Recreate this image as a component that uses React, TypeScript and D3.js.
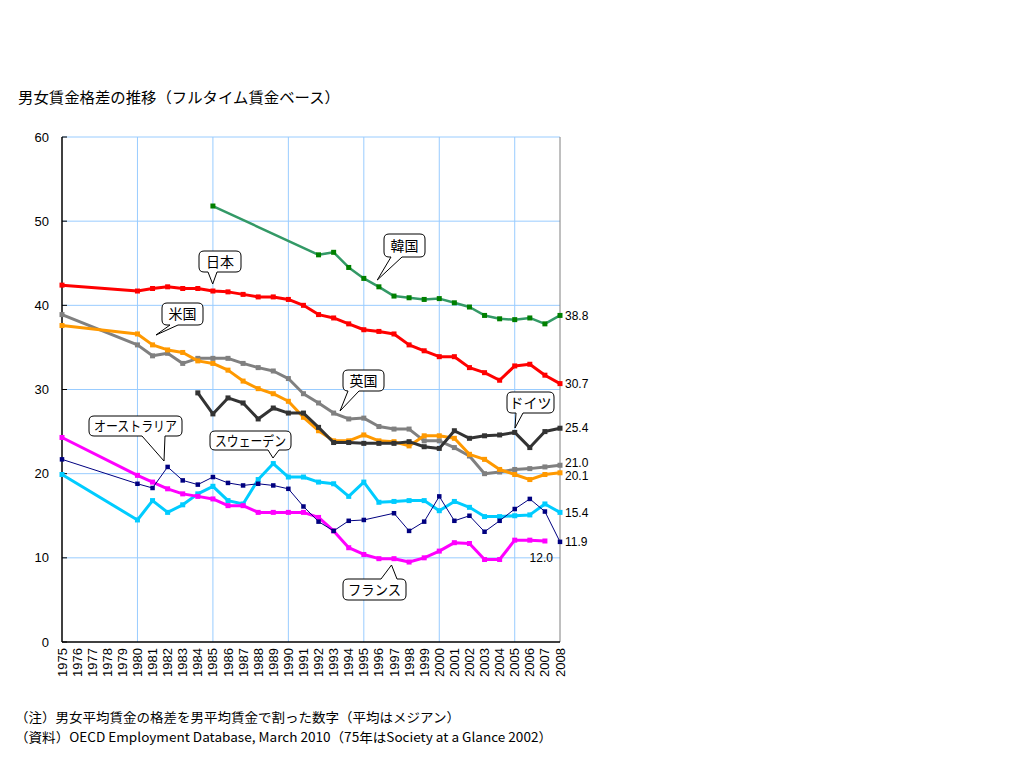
import React from "react";
import * as d3 from "d3";

const years: number[] = d3.range(1975, 2009);
const yTicks = [0, 10, 20, 30, 40, 50, 60];
const gridYears = [1980, 1985, 1990, 1995, 2000, 2005];

const japan = [42.4, null, null, null, null, 41.7, 42.0, 42.2, 42.0, 42.0, 41.7, 41.6, 41.3, 41.0, 41.0, 40.7, 40.0, 38.9, 38.5, 37.8, 37.1, 36.9, 36.6, 35.3, 34.6, 33.9, 33.9, 32.6, 32.0, 31.1, 32.8, 33.0, 31.7, 30.7];
const korea = [null, null, null, null, null, null, null, null, null, null, 51.8, null, null, null, null, null, null, 46.0, 46.3, 44.5, 43.2, 42.2, 41.1, 40.9, 40.7, 40.8, 40.3, 39.8, 38.8, 38.4, 38.3, 38.5, 37.8, 38.8];
const usa = [37.6, null, null, null, null, 36.6, 35.3, 34.7, 34.4, 33.4, 33.1, 32.3, 31.0, 30.1, 29.5, 28.6, 26.7, 25.1, 23.9, 23.9, 24.6, 23.9, 23.8, 23.3, 24.5, 24.5, 24.2, 22.3, 21.7, 20.5, 19.9, 19.3, 19.9, 20.1];
const uk = [38.9, null, null, null, null, 35.3, 34.0, 34.3, 33.1, 33.7, 33.7, 33.7, 33.1, 32.6, 32.2, 31.3, 29.5, 28.4, 27.2, 26.5, 26.6, 25.6, 25.3, 25.3, 23.9, 23.9, 23.1, 22.1, 20.0, 20.2, 20.5, 20.6, 20.8, 21.0];
const germany = [null, null, null, null, null, null, null, null, null, 29.6, 27.1, 29.0, 28.4, 26.5, 27.8, 27.2, 27.2, 25.5, 23.7, 23.7, 23.6, 23.6, 23.6, 23.8, 23.2, 23.0, 25.1, 24.2, 24.5, 24.6, 24.9, 23.1, 25.0, 25.4];
const australia = [21.7, null, null, null, null, 18.8, 18.3, 20.8, 19.2, 18.7, 19.6, 18.9, 18.6, 18.8, 18.6, 18.2, 16.1, 14.3, 13.2, 14.4, 14.5, null, 15.3, 13.2, 14.3, 17.3, 14.4, 15.0, 13.1, 14.4, 15.8, 17.0, 15.5, 11.9];
const sweden = [19.9, null, null, null, null, 14.5, 16.8, 15.4, 16.3, 17.6, 18.5, 16.8, 16.4, 19.3, 21.2, 19.6, 19.6, 19.0, 18.8, 17.3, 19.0, 16.6, 16.7, 16.8, 16.8, 15.6, 16.7, 16.0, 14.9, 14.9, 15.0, 15.1, 16.4, 15.4];
const france = [24.3, null, null, null, null, 19.8, 19.0, 18.2, 17.6, 17.3, 17.0, 16.2, 16.2, 15.4, 15.4, 15.4, 15.4, 14.8, 13.2, 11.2, 10.4, 9.9, 9.9, 9.5, 10.0, 10.8, 11.8, 11.7, 9.8, 9.8, 12.1, 12.1, 12.0, null];

type Series = { name: string; values: (number | null)[]; line: string; marker: string; width: number; ms: number };

const series: Series[] = [
  { name: "日本", values: japan, line: "#FF0000", marker: "#FF0000", width: 3, ms: 5 },
  { name: "韓国", values: korea, line: "#339966", marker: "#008000", width: 2.5, ms: 5 },
  { name: "英国", values: uk, line: "#808080", marker: "#808080", width: 3, ms: 5 },
  { name: "米国", values: usa, line: "#FF9900", marker: "#FF9900", width: 3, ms: 5 },
  { name: "ドイツ", values: germany, line: "#333333", marker: "#333333", width: 3, ms: 5 },
  { name: "スウェーデン", values: sweden, line: "#00CCFF", marker: "#00CCFF", width: 3, ms: 5 },
  { name: "フランス", values: france, line: "#FF00FF", marker: "#FF00FF", width: 3, ms: 5 },
  { name: "オーストラリア", values: australia, line: "#000080", marker: "#000080", width: 1, ms: 4.5 },
];

const endLabels: { name: string; year: number; dx: number; dy: number; anchor: string }[] = [
  { name: "韓国", year: 2008, dx: 5, dy: 0, anchor: "start" },
  { name: "日本", year: 2008, dx: 5, dy: 0, anchor: "start" },
  { name: "ドイツ", year: 2008, dx: 5, dy: 0, anchor: "start" },
  { name: "英国", year: 2008, dx: 5, dy: -2, anchor: "start" },
  { name: "米国", year: 2008, dx: 5, dy: 3, anchor: "start" },
  { name: "スウェーデン", year: 2008, dx: 5, dy: 0, anchor: "start" },
  { name: "オーストラリア", year: 2008, dx: 5, dy: 0, anchor: "start" },
  { name: "フランス", year: 2007, dx: 8, dy: 17, anchor: "end" },
];

const callouts = [
  { text: "日本", tipX: 212.7, tipY: 284, bx: 199, by: 251, bw: 42, bh: 21, b1: 208, b2: 217, bottom: true },
  { text: "韓国", tipX: 377.3, tipY: 280, bx: 384, by: 234, bw: 41, bh: 23, b1: 391, b2: 402, bottom: true },
  { text: "米国", tipX: 156, tipY: 335, bx: 162, by: 303, bw: 41, bh: 22, b1: 170, b2: 178, bottom: true },
  { text: "英国", tipX: 340, tipY: 411, bx: 343, by: 370, bw: 41, bh: 21, b1: 348, b2: 359, bottom: true },
  { text: "ドイツ", tipX: 515, tipY: 428, bx: 507, by: 392, bw: 47, bh: 21, b1: 516, b2: 523, bottom: true },
  { text: "オーストラリア", tipX: 164, tipY: 461, bx: 89, by: 416, bw: 93, bh: 20, b1: 142, b2: 165, bottom: true },
  { text: "スウェーデン", tipX: 273, tipY: 458, bx: 210, by: 431, bw: 81, bh: 19, b1: 268, b2: 279, bottom: true },
  { text: "フランス", tipX: 391.5, tipY: 565, bx: 343, by: 579, bw: 63, bh: 21, b1: 381, b2: 397, bottom: false },
];

const titleText = "男女賃金格差の推移（フルタイム賃金ベース）";
const note1 = "（注）男女平均賃金の格差を男平均賃金で割った数字（平均はメジアン）";
const note2 = "（資料）OECD Employment Database, March 2010（75年はSociety at a Glance 2002）";

const JP = "'Noto Sans CJK JP', 'Noto Sans', sans-serif";
const NUM = "'Liberation Sans', Arial, sans-serif";

export default function App() {
  const left = 62, right = 560, top = 137, bottom = 642;
  const x = d3.scaleLinear().domain([1975, 2008]).range([left, right]);
  const y = d3.scaleLinear().domain([0, 60]).range([bottom, top]);

  const lineGen = d3
    .line<{ yr: number; v: number }>()
    .x((d) => x(d.yr))
    .y((d) => y(d.v));

  const pts = (s: Series) =>
    years.map((yr, i) => ({ yr, v: s.values[i] })).filter((d) => d.v !== null) as { yr: number; v: number }[];

  return (
    <svg width={1024} height={768} style={{ position: "absolute", left: 0, top: 0, background: "#fff" }}>
      <rect x={0} y={0} width={1024} height={768} fill="#fff" />
      <text x={18} y={103} fontFamily={JP} fontSize={15} fill="#000" textLength={322} lengthAdjust="spacingAndGlyphs">{titleText}</text>

      {yTicks.filter((t) => t > 0).map((t) => (
        <line key={"gy" + t} x1={left} x2={right} y1={y(t)} y2={y(t)} stroke="#99CCFF" strokeWidth={1} />
      ))}
      {gridYears.map((g) => (
        <line key={"gx" + g} x1={x(g)} x2={x(g)} y1={top} y2={bottom} stroke="#99CCFF" strokeWidth={1} />
      ))}
      <line x1={right} x2={right} y1={top} y2={bottom} stroke="#808080" strokeWidth={1} />

      <line x1={left} x2={left} y1={top} y2={bottom} stroke="#000" strokeWidth={1.5} />
      <line x1={left} x2={right} y1={bottom} y2={bottom} stroke="#000" strokeWidth={1.5} />
      {yTicks.map((t) => (
        <g key={"yt" + t}>
          <line x1={left} x2={left + 5} y1={y(t)} y2={y(t)} stroke="#000" strokeWidth={1} />
          <text x={49} y={y(t)} dy="0.35em" textAnchor="end" fontFamily={NUM} fontSize={13} fill="#000">{t}</text>
        </g>
      ))}
      {years.map((yr) => (
        <text
          key={"xt" + yr}
          transform={`translate(${x(yr)},${bottom + 6}) rotate(-90)`}
          dy="0.35em"
          textAnchor="end"
          fontFamily={NUM}
          fontSize={13}
          fill="#000"
        >
          {yr}
        </text>
      ))}

      {series.map((s) => {
        const p = pts(s);
        return (
          <g key={s.name}>
            <path d={lineGen(p) || ""} fill="none" stroke={s.line} strokeWidth={s.width} strokeLinejoin="round" />
            {p.map((d) => (
              <rect key={d.yr} x={x(d.yr) - s.ms / 2} y={y(d.v) - s.ms / 2} width={s.ms} height={s.ms} fill={s.marker} />
            ))}
          </g>
        );
      })}

      {endLabels.map((l) => {
        const s = series.find((q) => q.name === l.name)!;
        const v = s.values[years.indexOf(l.year)] as number;
        return (
          <text key={"el" + l.name} x={x(l.year) + l.dx} y={y(v) + l.dy} dy="0.35em" textAnchor={l.anchor as any} fontFamily={NUM} fontSize={12} fill="#000">
            {v.toFixed(1)}
          </text>
        );
      })}

      {callouts.map((c) => {
        const r = 5;
        const { bx, by, bw, bh } = c;
        let d: string;
        if (c.bottom) {
          d = `M${bx + r},${by} H${bx + bw - r} Q${bx + bw},${by} ${bx + bw},${by + r} V${by + bh - r} Q${bx + bw},${by + bh} ${bx + bw - r},${by + bh} H${c.b2} L${c.tipX},${c.tipY} L${c.b1},${by + bh} H${bx + r} Q${bx},${by + bh} ${bx},${by + bh - r} V${by + r} Q${bx},${by} ${bx + r},${by} Z`;
        } else {
          d = `M${bx + r},${by} H${c.b1} L${c.tipX},${c.tipY} L${c.b2},${by} H${bx + bw - r} Q${bx + bw},${by} ${bx + bw},${by + r} V${by + bh - r} Q${bx + bw},${by + bh} ${bx + bw - r},${by + bh} H${bx + r} Q${bx},${by + bh} ${bx},${by + bh - r} V${by + r} Q${bx},${by} ${bx + r},${by} Z`;
        }
        const long = c.text.length > 3;
        return (
          <g key={"co" + c.text}>
            <path d={d} fill="#fff" stroke="#000" strokeWidth={1} />
            <text
              x={bx + bw / 2}
              y={by + bh / 2}
              dy="0.36em"
              textAnchor="middle"
              fontFamily={JP}
              fontSize={14}
              fill="#000"
              {...(long ? { textLength: bw - 10, lengthAdjust: "spacingAndGlyphs" } : {})}
            >
              {c.text}
            </text>
          </g>
        );
      })}

      <text x={15} y={722} fontFamily={JP} fontSize={13} fill="#000" textLength={445} lengthAdjust="spacingAndGlyphs">{note1}</text>
      <text x={15} y={742} fontFamily={JP} fontSize={13} fill="#000" textLength={537} lengthAdjust="spacingAndGlyphs">{note2}</text>
    </svg>
  );
}
